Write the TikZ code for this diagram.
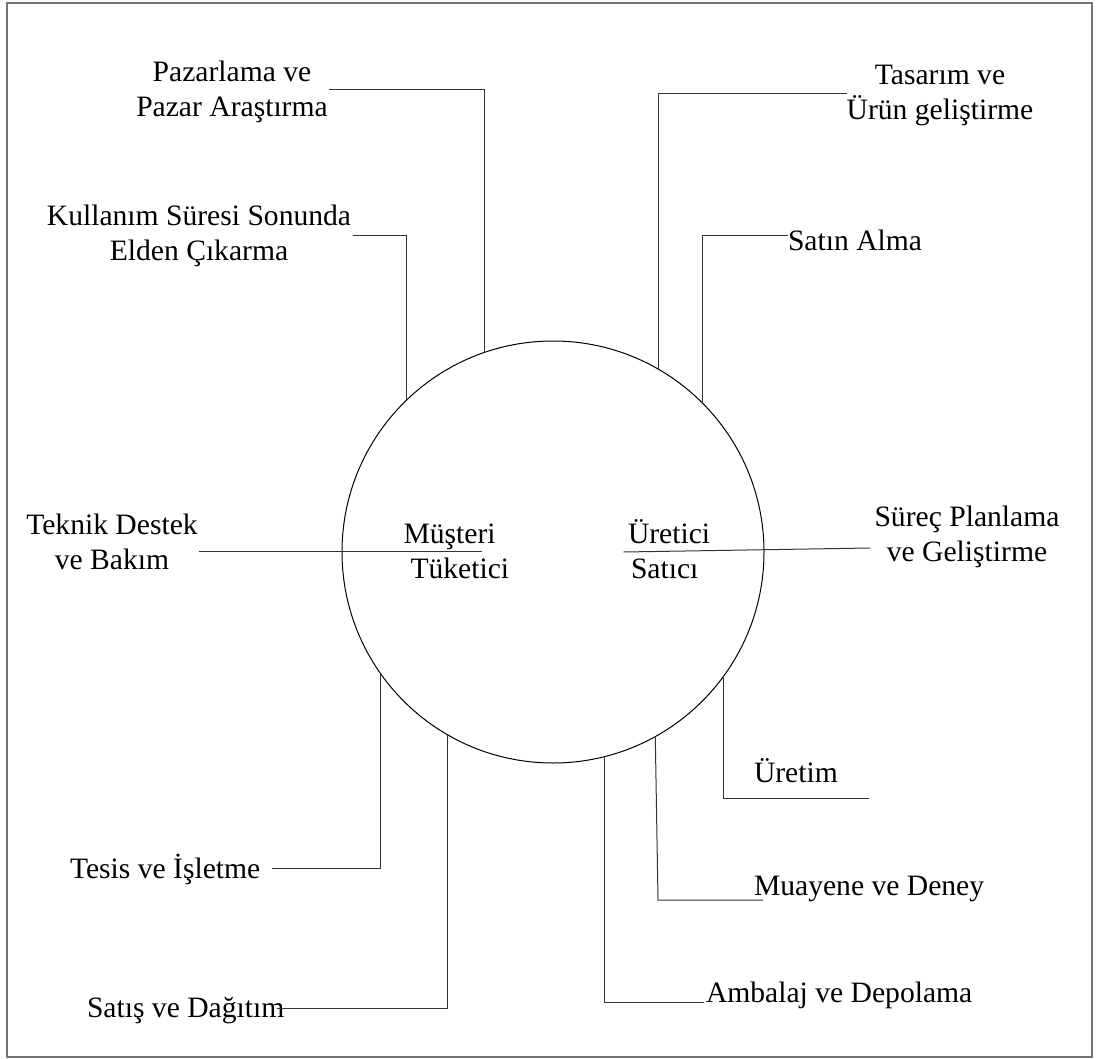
\documentclass[tikz,border=0pt]{standalone}
\usepackage{fontspec}
\setmainfont{Liberation Serif}
\begin{document}
\begin{tikzpicture}[x=0.5pt, y=-0.5pt,
  lbl/.style={inner sep=0pt, outer sep=0pt, align=center,
    font=\fontsize{14.8pt}{17.5pt}\selectfont},
  conn/.style={draw=black!80, line width=0.5pt},
  frame/.style={draw=black!55, line width=0.8pt},
  hub/.style={draw=black, line width=0.5pt, circle, minimum size=211pt,
    inner sep=0pt, outer sep=0pt}]
\useasboundingbox (0,0) rectangle (1097,1059);
\draw[frame] (7,3) rectangle (1092,1057);

% central circle
\node[hub] (c) at (553,552) {};

% labels (two-line labels are placed by the baseline of their last line)
\node[lbl, anchor=base] (pz) at (232,117) {Pazarlama ve\\Pazar Araştırma};
\node[lbl, anchor=base] (ku) at (199,261) {Kullanım Süresi Sonunda\\Elden Çıkarma};
\node[lbl, anchor=base] (ta) at (940,120) {Tasarım ve\\Ürün geliştirme};
\node[lbl, anchor=base west] (sa) at (788,250) {Satın Alma};
\node[lbl, anchor=base] (te) at (112,569) {Teknik Destek\\ve Bakım};
\node[lbl, anchor=base west] (mu) at (403.5,543) {Müşteri};
\node[lbl, anchor=base west] (tu) at (410.5,578) {Tüketici};
\node[lbl, anchor=base west] (ur) at (628,543) {Üretici};
\node[lbl, anchor=base west] (st) at (631,578) {Satıcı};
\node[lbl, anchor=base] (sp) at (967,561) {Süreç Planlama\\ve Geliştirme};
\node[lbl, anchor=base west] (uy) at (754,782) {Üretim};
\node[lbl, anchor=base west] (md) at (754,895) {Muayene ve Deney};
\node[lbl, anchor=base west] (ad) at (706,1002) {Ambalaj ve Depolama};
\node[lbl, anchor=base west] (ti) at (70,878) {Tesis ve İşletme};
\node[lbl, anchor=base west] (sd) at (87,1017) {Satış ve Dağıtım};

% connector end points beside the labels
\coordinate (pzE) at (329,90);
\coordinate (kuE) at (352.6,236);
\coordinate (taE) at (847,94);
\coordinate (saE) at (788,236);
\coordinate (teE) at (199,551);
\coordinate (teI) at (482,551);
\coordinate (spI) at (623.5,552);
\coordinate (spE) at (870,548);
\coordinate (uyE) at (869,798);
\coordinate (mdK) at (658,900);
\coordinate (mdE) at (763,900);
\coordinate (adE) at (704,1002);
\coordinate (tiE) at (272,868);
\coordinate (sdE) at (277,1008);

% connectors
\draw[conn] (c.109.66) |- (pzE);
\draw[conn] (c.134.93) |- (kuE);
\draw[conn] (c.60.47) |- (taE);
\draw[conn] (c.45.23) |- (saE);
\draw[conn] (teE) -- (teI);
\draw[conn] (spI) -- (spE);
\draw[conn] (c.-36.77) |- (uyE);
\draw[conn] (c.-61.09) -- (mdK) -- (mdE);
\draw[conn] (c.-76.29) |- (adE);
\draw[conn] (c.-145.08) |- (tiE);
\draw[conn] (c.-120.16) |- (sdE);
\end{tikzpicture}
\end{document}
